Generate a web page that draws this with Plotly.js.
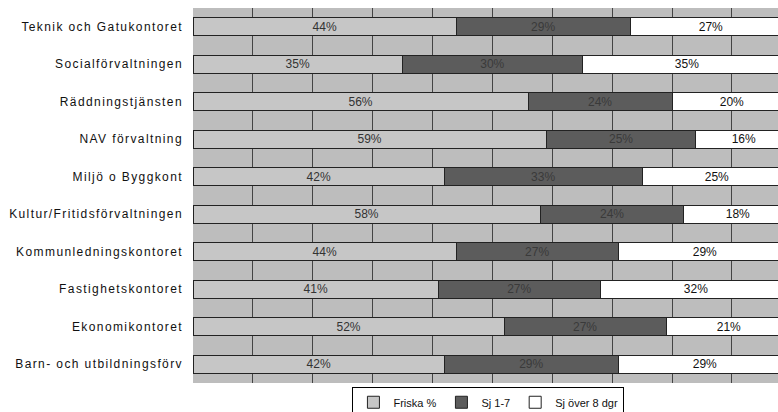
<!DOCTYPE html>
<html>
<head>
<meta charset="utf-8">
<script src="https://cdn.plot.ly/plotly-3.0.1.min.js"></script>
<style>
html,body{margin:0;padding:0;background:#fff;}
#chart{width:778px;height:412px;}
.ytick text{letter-spacing:1.4px;}
.bars .textpoint text{letter-spacing:1px;}
</style>
</head>
<body>
<div id="chart"></div>
<script>
const categories = [
  "Teknik och Gatukontoret",
  "Socialförvaltningen",
  "Räddningstjänsten",
  "NAV förvaltning",
  "Miljö o Byggkont",
  "Kultur/Fritidsförvaltningen",
  "Kommunledningskontoret",
  "Fastighetskontoret",
  "Ekonomikontoret",
  "Barn- och utbildningsförv"
];
const friska = [44, 35, 56, 59, 42, 58, 44, 41, 52, 42];
const sj17 = [29, 30, 24, 25, 33, 24, 27, 27, 27, 29];
const sjOver8 = [27, 35, 20, 16, 25, 18, 29, 32, 21, 29];
const seriesNames = ["Friska %", "Sj 1-7", "Sj över 8 dgr"];

const font = "Liberation Sans, Arial, sans-serif";
function trace(name, vals, fill, txtColor) {
  return {
    type: "bar", orientation: "h", name: name,
    y: categories, x: vals,
    marker: {color: fill, line: {color: "#222", width: 1}},
    texttemplate: "%{x}%", textposition: "inside", insidetextanchor: "middle",
    textangle: 0, constraintext: "none",
    textfont: {family: font, size: 12, color: txtColor},
    hoverinfo: "skip"
  };
}
const data = [
  trace(seriesNames[0], friska, "#c6c6c6", "#333"),
  trace(seriesNames[1], sj17, "#5c5c5c", "#3a3a3a"),
  trace(seriesNames[2], sjOver8, "#ffffff", "#111")
];
const layout = {
  width: 778, height: 412,
  margin: {l: 193, r: 0, t: 8, b: 29, autoexpand: false},
  barmode: "stack", bargap: 0.52,
  paper_bgcolor: "#ffffff", plot_bgcolor: "#bdbdbd",
  showlegend: true,
  legend: {orientation: "h", x: 0.505, xanchor: "center", y: -0.01, yanchor: "top",
           bordercolor: "#000", borderwidth: 1, bgcolor: "#fff",
           font: {family: font, size: 11, color: "#111"}, traceorder: "normal",
           itemwidth: 30, tracegroupgap: 0},
  xaxis: {range: [0, 97.7], showticklabels: false, ticks: "", dtick: 10,
          showgrid: true, gridcolor: "#444", gridwidth: 1, zeroline: false,
          showline: false, fixedrange: true},
  yaxis: {autorange: "reversed", ticks: "", showgrid: false, showline: false,
          ticklabelstandoff: 9,
          tickfont: {family: font, size: 12, color: "#111"}, fixedrange: true}
};
Plotly.newPlot("chart", data, layout, {displayModeBar: false, staticPlot: true});
</script>
</body>
</html>
